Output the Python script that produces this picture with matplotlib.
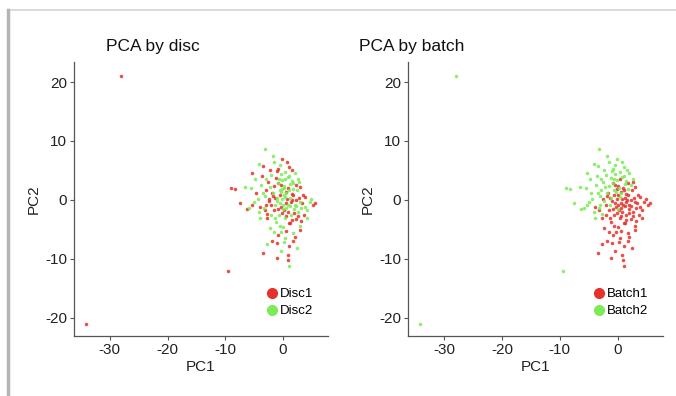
import numpy as np
import matplotlib
matplotlib.use("Agg")
import matplotlib.pyplot as plt
from matplotlib.lines import Line2D

plt.rcParams['font.family'] = ['Liberation Sans', 'DejaVu Sans']
plt.rcParams['axes.unicode_minus'] = False

# PCA scores (PC1, PC2) per sample
pc1 = [0.5, 1.2, -0.3, 2.0, 1.5, 0.1, -1.0, 2.8, 0.8, 1.9,
       -0.6, 3.3, 0.3, 1.4, -1.5, 2.4, 0.9, -0.2, 3.9, 1.1,
       -2.1, 0.0, 2.2, 4.6, 5.2, 5.6, 4.8, -2.8, -1.2, 0.6,
       1.7, -0.8, 0.2, -1.9, 1.0, -0.4, 0.8, -3.4, -2.3, 2.9,
       3.6, 2.6, -0.9, 1.8, 3.0, 0.4, 1.6, 0.7, -0.5, 2.3,
       1.3, 0.2, -1.3, 3.1, -0.1, 1.8, 0.9, 2.6, -1.7, 0.5,
       4.2, 3.5, -2.5, -0.7, 1.5, -1.6, 2.0, 0.3, -2.7, -1.1,
       1.1, -0.2, 0.6, 1.9, -0.9, 2.9, 3.8, 1.0, -0.4, 4.1,
       -3.2, -2.0, 0.0, 1.4, 2.2, 0.5, 1.2, -1.4, 3.2, -0.6,
       0.9, 2.5, -1.8, 2.7, -4.0, 1.7, -0.3, 3.0, 0.1, -1.0,
       -3.2, -4.1, -3.5, -0.5, -0.9, 0.3, -2.0, -1.2, 1.1, -0.1,
       -2.6, 0.8, -3.8, -1.6, 0.2, -2.9, 1.5, -0.6, -4.6, -5.5,
       -3.1, -1.9, 0.6, -9.0, -8.3, -6.6, -7.5, -5.0, -4.1, -3.0,
       -0.4, 2.0, 1.0, -1.5, -2.3, 2.6, -0.8, -2.4, -5.8, -2.7,
       -1.1, 0.4, -3.6, -4.8, 1.8, -0.2, -1.8, 0.7, -2.2, -3.4,
       -6.3, -3.9, -1.3, 2.3, -0.3, -4.4, -5.3, 1.3, -1.0, -2.9,
       0.0, -5.4, -3.3, 1.6, -0.7,
       -28.0, -34.2, -9.5]
pc2 = [-0.5, 0.3, -1.2, -0.8, 1.0, 0.8, -0.2, 0.4, -2.0, -1.6,
       0.9, -0.6, -3.1, -2.6, -1.8, 1.6, 2.1, 1.9, -1.2, -4.0,
       -0.9, -4.6, -3.3, -0.3, -0.9, -0.6, 0.1, -3.0, -3.8, -5.2,
       -5.6, -6.0, -7.1, -6.9, -7.8, -8.6, -9.3, -9.0, -4.8, -4.4,
       -2.5, -2.0, 2.8, 2.9, 2.2, 3.6, 0.0, 0.2, -0.5, -0.1,
       -1.1, -1.7, 0.4, -1.3, 0.1, 0.8, -0.9, -2.7, 1.2, 1.4,
       -1.8, 0.9, 0.2, -2.5, -3.4, -5.4, -6.3, -6.4, -7.5, -9.9,
       -11.2, -2.2, -1.3, -2.2, -1.5, -0.3, 0.5, 1.7, 2.6, -3.0,
       -1.7, -2.6, -0.9, -0.4, -1.1, -2.8, -3.9, -3.1, -3.6, -4.4,
       -10.2, -8.1, 0.6, 3.1, -1.2, -7.0, -5.5, -5.1, 2.4, -7.3,
       8.6, 6.1, 5.7, 5.9, 5.2, 4.8, 4.3, 3.7, 4.1, 3.3,
       3.0, 3.9, 2.6, 2.4, 2.1, 1.7, 3.2, 1.6, 1.2, 2.0,
       0.6, 1.1, 1.1, 2.1, 1.9, 2.2, -0.6, -0.3, -2.1, -0.8,
       4.4, 4.6, 5.5, 6.4, 5.1, 3.6, 2.9, -0.2, -1.4, -2.4,
       0.3, 0.5, 4.0, 3.5, 1.9, 6.9, 7.5, 6.4, 2.2, 1.2,
       -1.5, -3.0, -0.9, 2.6, 1.3, 0.1, 4.6, 2.7, 4.9, 3.6,
       -1.6, -0.9, -1.4, 5.1, 3.6,
       21.0, -21.0, -12.0]

batch = [1] * 100 + [2] * 68
disc = [1, 2, 1, 2, 1, 2, 2, 1, 1, 2, 1, 1, 2, 2, 1, 2, 1, 2, 2, 1,
        1, 2, 1, 2, 1, 1, 2, 1, 2, 1, 2, 1, 2, 1, 1, 2, 1, 1, 2, 2,
        1, 2, 1, 2, 1, 2, 1, 1, 2, 1, 2, 1, 1, 2, 2, 1, 2, 1, 2, 1,
        2, 1, 1, 2, 1, 2, 1, 2, 2, 1, 2, 1, 2, 1, 1, 2, 1, 2, 1, 2,
        1, 2, 2, 1, 2, 1, 1, 2, 1, 2, 1, 2, 1, 2, 1, 1, 2, 1, 2, 1,
        2, 2, 1, 2, 1, 2, 2, 1, 2, 2, 1, 2, 2, 1, 2, 1, 2, 2, 1, 2,
        2, 1, 2, 1, 1, 2, 1, 2, 2, 1, 2, 2, 1, 2, 1, 2, 2, 1, 2, 1,
        2, 2, 1, 2, 2, 1, 2, 1, 2, 2, 1, 2, 2, 1, 2, 2, 1, 2, 1, 2,
        2, 1, 2, 1, 2,
        1, 1, 1]

red = '#E5312A'
green = '#7CEB55'
pal = {1: red, 2: green}

pc1 = np.array(pc1)
pc2 = np.array(pc2)
batch = np.array(batch)
disc = np.array(disc)

W, H = 676, 396
fig = plt.figure(figsize=(W / 100, H / 100), dpi=100)

# window frame edges
fig.add_artist(Line2D([8 / W, 1], [1 - 10 / H, 1 - 10 / H], color='#d4d4d4', lw=1.2))
fig.add_artist(Line2D([8 / W, 8 / W], [0, 1 - 10 / H], color='#b5b5b5', lw=2.5))


def px_axes(x0, x1, y0, y1):
    return fig.add_axes([x0 / W, 1 - y1 / H, (x1 - x0) / W, (y1 - y0) / H])


def draw_panel(ax, groups, names, title, title_x):
    for g in (1, 2):
        m = groups == g
        ax.scatter(pc1[m], pc2[m], s=6.5, c=pal[g], alpha=0.85, linewidths=0, zorder=2)
    ax.set_xlim(-36.2, 7.8)
    ax.set_ylim(-23.1, 23.4)
    ax.set_xticks([-30, -20, -10, 0])
    ax.set_yticks([-20, -10, 0, 10, 20])
    for side in ('top', 'right'):
        ax.spines[side].set_visible(False)
    for side in ('left', 'bottom'):
        ax.spines[side].set_color('#555555')
        ax.spines[side].set_linewidth(0.9)
    ax.tick_params(length=3, width=0.8, color='#555555', labelsize=11, labelcolor='#222222', pad=2)
    ax.set_xlabel('PC1', fontsize=11, color='#222222', labelpad=2)
    ax.set_ylabel('PC2', fontsize=11, color='#222222', labelpad=3)
    handles = [Line2D([], [], marker='o', ls='', ms=7, color=pal[g]) for g in (1, 2)]
    ax.legend(handles, names, loc='lower right', bbox_to_anchor=(0.975, 0.04), frameon=False,
              fontsize=9.5, handletextpad=0.05, labelspacing=0.35, borderaxespad=0.2,
              handlelength=1.2)
    fig.text(title_x / W, 1 - 47 / H, title, fontsize=12.5, ha='center', va='center', color='#111111')


ax1 = px_axes(74, 328, 62, 336)
draw_panel(ax1, disc, ['Disc1', 'Disc2'], 'PCA by disc', 153)
ax2 = px_axes(408, 663, 62, 336)
draw_panel(ax2, batch, ['Batch1', 'Batch2'], 'PCA by batch', 412)

fig.savefig('out.png', dpi=100, facecolor='white')
